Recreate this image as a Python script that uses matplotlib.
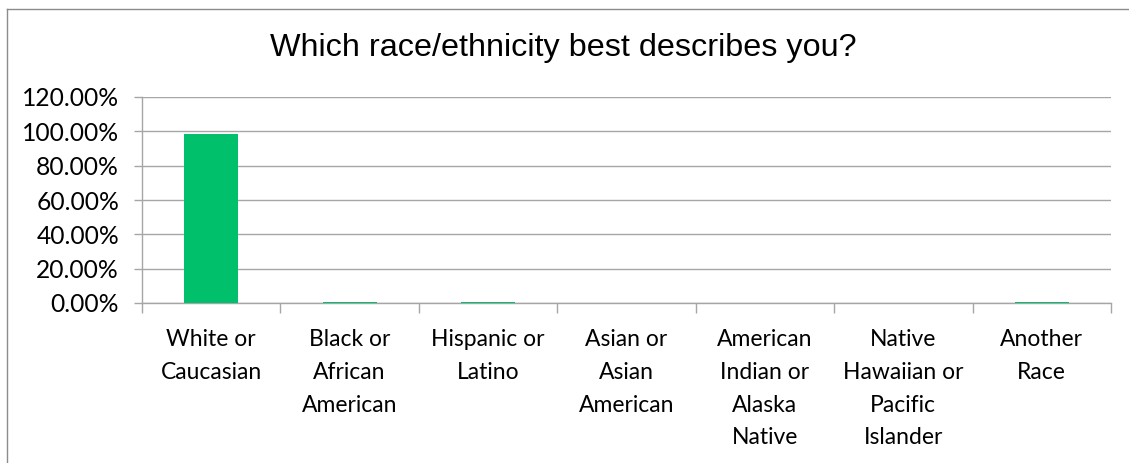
import matplotlib
matplotlib.use("Agg")
import matplotlib.pyplot as plt
from matplotlib.ticker import FuncFormatter, MultipleLocator
from matplotlib.lines import Line2D

title = "Which race/ethnicity best describes you?"
categories = ["White or\nCaucasian", "Black or\nAfrican\nAmerican", "Hispanic or\nLatino",
              "Asian or\nAsian\nAmerican", "American\nIndian or\nAlaska\nNative",
              "Native\nHawaiian or\nPacific\nIslander", "Another\nRace"]
values = [98.4, 0.3, 0.3, 0.0, 0.0, 0.0, 0.8]

W, H, DPI = 1129, 463, 100
fig = plt.figure(figsize=(W / DPI, H / DPI), dpi=DPI)
fig.patch.set_facecolor("white")

# outer chart border (left and top visible)
fig.add_artist(Line2D([7 / W, 7 / W], [0, 1 - 9 / H], transform=fig.transFigure,
                      color="#8c8c8c", lw=1.0))
fig.add_artist(Line2D([7 / W, 1], [1 - 9 / H, 1 - 9 / H], transform=fig.transFigure,
                      color="#8c8c8c", lw=1.0))

left, right, top, bottom = 142, 1111, 97, 303
ax = fig.add_axes([left / W, 1 - bottom / H, (right - left) / W, (bottom - top) / H])

x = list(range(len(categories)))
ax.bar(x, values, width=0.39, color="#00C06B", zorder=3)
ax.set_xlim(-0.5, len(categories) - 0.5)
ax.set_ylim(0, 120)
ax.yaxis.set_major_locator(MultipleLocator(20))
ax.yaxis.set_major_formatter(FuncFormatter(lambda v, p: f"{v:.2f}%"))
ax.grid(axis="y", color="#a6a6a6", lw=1.0, zorder=0)

for s in ["top", "right"]:
    ax.spines[s].set_visible(False)
for s in ["left", "bottom"]:
    ax.spines[s].set_color("#a6a6a6")
    ax.spines[s].set_linewidth(1.0)

ax.set_xticks([i - 0.5 for i in range(len(categories) + 1)])
ax.set_xticklabels([])
ax.set_xticks(x, minor=True)
ax.set_xticklabels(categories, minor=True, fontsize=16.5, family="Lato",
                   linespacing=1.68, va="top")
ax.tick_params(axis="x", which="major", length=7, color="#a6a6a6", width=1.0, direction="out")
ax.tick_params(axis="x", which="minor", length=0, pad=19)
ax.tick_params(axis="y", length=6, color="#a6a6a6", width=1.0, pad=10.5, labelsize=17.7)
for lbl in ax.get_yticklabels():
    lbl.set_family("Lato")

fig.text(563 / W, 1 - 48 / H, title, ha="center", va="center",
         fontsize=23.3, family="Liberation Sans", color="black")

fig.savefig("out.png", dpi=DPI)
